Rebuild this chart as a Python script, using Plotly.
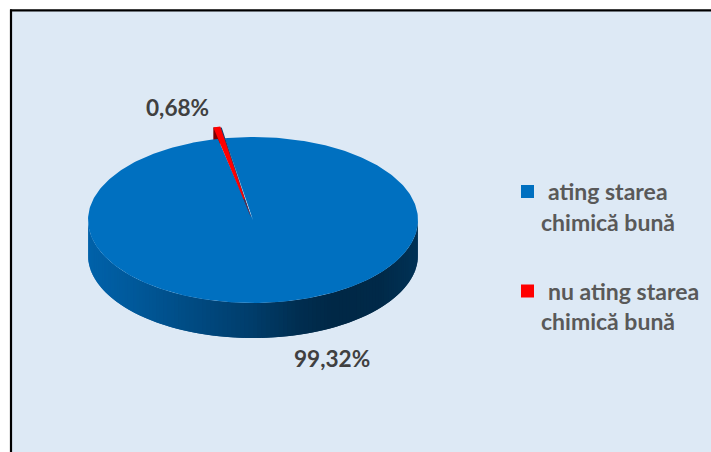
import numpy as np
import plotly.graph_objects as go

# data
categories = ["ating starea chimică bună", "nu ating starea chimică bună"]
values = [99.32, 0.68]
colors = ["#0070C0", "#FF0000"]
legend_lines = [["ating starea", "chimică bună"], ["nu ating starea", "chimică bună"]]

# geometry of the drawing
CX, CY, RX, RY, DEPTH = 253, 220, 165, 83, 35
RED_APEX = (251, 217)
RED_RY = 92
RED_START = -13.2
BLUE_START = -9.8
FONT = "Lato"

# wall shade by horizontal pixel position
side_x = [88, 130, 190, 250, 300, 335, 380, 418]
side_r = [0, 0, 0, 0, 0, 0, 0, 0]
side_g = [98, 90, 76, 62, 46, 40, 42, 50]
side_b = [170, 156, 132, 108, 80, 70, 73, 86]


def sweep(v):
    return v / sum(values) * 360.0


def rim(t, ry=RY, cx=CX, cy=CY):
    a = np.radians(t)
    return cx + RX * np.sin(a), cy - ry * np.cos(a)


def side_color(x):
    return "rgb(%d,%d,%d)" % (np.interp(x, side_x, side_r), np.interp(x, side_x, side_g),
                              np.interp(x, side_x, side_b))


fig = go.Figure()


def poly(x, y, color, line=0):
    fig.add_trace(go.Scatter(x=list(x), y=list(y), mode="lines", fill="toself",
                             fillcolor=color,
                             line=dict(color=color, width=line),
                             hoverinfo="skip", showlegend=False))


# side wall of the big slice, strip by strip from the left (overlapping to hide seams)
edges = np.linspace(270, 90, 121)
for a, b in zip(edges[:-1], edges[1:]):
    t = np.linspace(a, max(b - 1.5, 90), 6)
    xs, ys = rim(t)
    color = side_color(rim(0.5 * (a + b))[0])
    poly(np.r_[xs, xs[::-1]], np.r_[ys, ys[::-1] + DEPTH], color)

# dark side of the pulled-out red slice (behind the big slice)
rx0, ry0 = RED_APEX[0] + RX * np.sin(np.radians(RED_START)), RED_APEX[1] - RED_RY * np.cos(np.radians(RED_START))
poly([rx0, rx0 + 7, rx0 + 7, rx0], [ry0, ry0, ry0 + 22, ry0 + 22], "#7A0000")

# top of the big slice
t = np.linspace(BLUE_START, BLUE_START + sweep(values[0]), 361)
xs, ys = rim(t)
poly(np.r_[CX, xs, CX], np.r_[CY, ys, CY], colors[0], 0)

# top of the red slice
t = np.linspace(RED_START, RED_START + sweep(values[1]), 6)
rad = np.radians(t)
xs = RED_APEX[0] + RX * np.sin(rad)
ys = RED_APEX[1] - RED_RY * np.cos(rad)
poly(np.r_[RED_APEX[0], xs + 1.5, RED_APEX[0]], np.r_[RED_APEX[1], ys + 1, RED_APEX[1]], "#16406E")
poly(np.r_[RED_APEX[0], xs, RED_APEX[0]], np.r_[RED_APEX[1], ys, RED_APEX[1]], colors[1])
f = 0.2
poly(np.r_[RED_APEX[0], RED_APEX[0] + f * (xs - RED_APEX[0]), RED_APEX[0]],
     np.r_[RED_APEX[1], RED_APEX[1] + f * (ys - RED_APEX[1]), RED_APEX[1]], "#16406E")

# legend swatches
fig.add_trace(go.Scatter(x=[527.5, 527.5], y=[191.5, 291], mode="markers",
                         marker=dict(symbol="square", size=13, color=colors, line=dict(width=0)),
                         hoverinfo="skip", showlegend=False))

annotations = []
labels = [f"{v:.2f}%".replace(".", ",") for v in values]
for text, x, y in zip(labels, [332, 177.5], [358, 107]):
    annotations.append(dict(x=x, y=y, text=text, showarrow=False, xanchor="center", yanchor="middle",
                            font=dict(family=FONT, size=22.6, color="#404040", weight="bold")))
for lines, ys_l, x0 in zip(legend_lines, [(191, 222), (291, 321)], (545.5, 545.5)):
    for line, y, x in zip(lines, ys_l, (x0, 539)):
        annotations.append(dict(x=x, y=y, text=line, showarrow=False, xanchor="left", yanchor="middle",
                                font=dict(family=FONT, size=23, color="#595959", weight="bold")))

shapes = [
    dict(type="rect", xref="paper", yref="paper", x0=12 / 711, x1=1, y0=0, y1=1 - 10.5 / 452,
         fillcolor="#DDE9F5", line=dict(width=0), layer="below"),
    dict(type="line", xref="paper", yref="paper", x0=11 / 711, x1=11 / 711, y0=0, y1=1 - 9.5 / 452,
         line=dict(color="#000000", width=2.2), layer="below"),
    dict(type="line", xref="paper", yref="paper", x0=10 / 711, x1=1, y0=1 - 10.3 / 452, y1=1 - 10.3 / 452,
         line=dict(color="#000000", width=2.2), layer="below"),
]

fig.update_layout(
    width=711, height=452, margin=dict(l=0, r=0, t=0, b=0),
    paper_bgcolor="#FFFFFF", plot_bgcolor="rgba(0,0,0,0)",
    showlegend=False, annotations=annotations, shapes=shapes,
    xaxis=dict(range=[0, 711], visible=False, fixedrange=True),
    yaxis=dict(range=[452, 0], visible=False, fixedrange=True),
)
fig.write_html("out.html", config={"displayModeBar": False},
               post_script="document.body.style.margin='0';document.body.style.overflow='hidden';")
